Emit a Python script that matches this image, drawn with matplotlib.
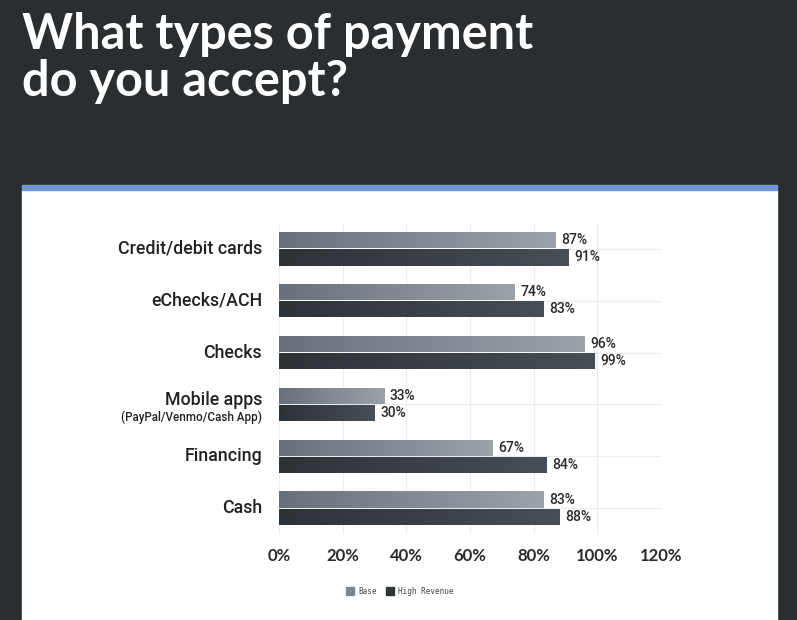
import matplotlib.pyplot as plt
import matplotlib.patches as mpatches
import numpy as np

# data
categories = ["Credit/debit cards", "eChecks/ACH", "Checks", "Mobile apps", "Financing", "Cash"]
base = [87, 74, 96, 33, 67, 83]
high_revenue = [91, 83, 99, 30, 84, 88]
xticks = [0, 20, 40, 60, 80, 100, 120]

W, H = 797, 620
fig = plt.figure(figsize=(W / 100, H / 100), dpi=100)
fig.patch.set_facecolor("#2b2e31")

# white card with blue top strip
fig.patches.append(mpatches.Rectangle((22 / W, 0), 755 / W, 1 - 190 / H,
                                      transform=fig.transFigure, color="white", zorder=0))
fig.patches.append(mpatches.Rectangle((22 / W, 1 - 190 / H), 755 / W, 5 / H,
                                      transform=fig.transFigure, color="#7098d0", zorder=0))

fig.text(22 / W, 1 - 12 / H, "What types of payment\ndo you accept?", color="white",
         fontsize=35, fontweight="bold", family="Lato", va="top", ha="left",
         linespacing=1.06)

ax = fig.add_axes([279 / W, 1 - 534 / H, 382 / W, 311 / H])
ax.set_zorder(2)
ax.set_facecolor("none")
y = np.arange(len(categories))
h = 0.31
off = 0.165

light = plt.matplotlib.colors.LinearSegmentedColormap.from_list("l", ["#68717a", "#9aa3aa"])
dark = plt.matplotlib.colors.LinearSegmentedColormap.from_list("d", ["#2d3237", "#474e55"])
grad = np.linspace(0, 1, 256).reshape(1, -1)

b1 = ax.barh(y - off, base, height=h, color="#828b93", edgecolor="none", zorder=2)
b2 = ax.barh(y + off, high_revenue, height=h, color="#3a4046", edgecolor="none", zorder=2)
for bars, cmap in ((b1, light), (b2, dark)):
    for r in bars:
        x0, y0, w, hh = r.get_x(), r.get_y(), r.get_width(), r.get_height()
        im = ax.imshow(grad, cmap=cmap, aspect="auto", extent=(x0, x0 + w, y0 + hh, y0),
                       zorder=3, interpolation="bilinear")
        im.set_clip_path(r)

lab = dict(va="center", ha="left", fontsize=10, family="Roboto", fontweight="medium",
           color="#2a2a2a")
for yy, v in zip(y - off, base):
    ax.text(v + 1.8, yy, f"{v}%", **lab)
for yy, v in zip(y + off, high_revenue):
    ax.text(v + 1.8, yy, f"{v}%", **lab)

ax.set_xlim(0, 120)
ax.set_ylim(len(categories) - 0.5, -0.5)
ax.set_xticks(xticks)
ax.set_xticklabels([f"{t}%" for t in xticks], fontsize=12, family="Lato",
                   fontweight="bold", color="#2a2a2a")
ax.tick_params(axis="x", length=0, pad=10)
ax.set_yticks(y)
ax.set_yticklabels([])
ax.grid(axis="both", color="#ececec", linewidth=0.8, zorder=0)
ax.tick_params(axis="y", which="both", length=0)
for s in ax.spines.values():
    s.set_visible(False)

cat = dict(ha="right", fontsize=12.8, family="Roboto", fontweight="medium", color="#222222")
for yy, c in zip(y, categories):
    if c == "Mobile apps":
        ax.text(-5.3, yy + 0.08, c, va="bottom", **cat)
        ax.text(-5.3, yy + 0.12, "(PayPal/Venmo/Cash App)", ha="right", va="top",
                fontsize=8.4, family="Roboto", fontweight="medium", color="#222222")
    else:
        ax.text(-5.3, yy, c, va="center", **cat)

leg = fig.legend(handles=[mpatches.Patch(color="#7c868e", label="Base"),
                          mpatches.Patch(color="#30353a", label="High Revenue")],
                 loc="center", bbox_to_anchor=(400 / W, 1 - 591 / H), ncol=2, frameon=False,
                 prop={"family": "DejaVu Sans Mono", "size": 5.5}, handlelength=1.0,
                 handleheight=1.2, handletextpad=0.6, columnspacing=1.2)
for t in leg.get_texts():
    t.set_color("#444444")

fig.savefig("out.png", dpi=100, facecolor=fig.get_facecolor())
